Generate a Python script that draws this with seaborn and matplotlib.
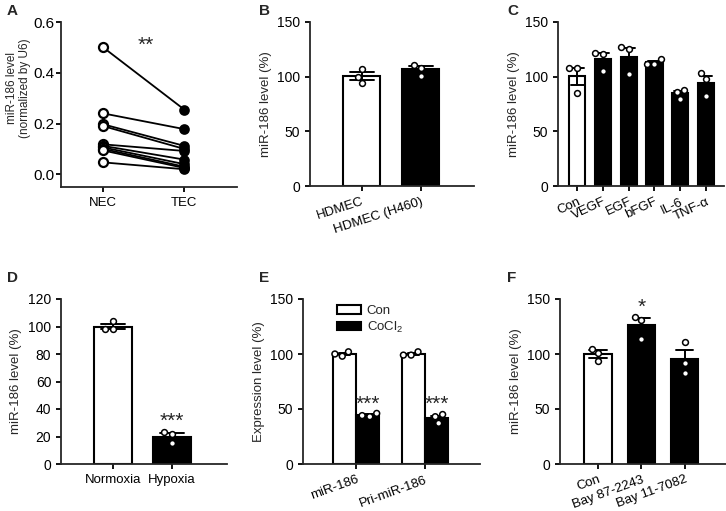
import numpy as np
import pandas as pd
import matplotlib
matplotlib.use("Agg")
import matplotlib.pyplot as plt
import seaborn as sns

# ---- data ----
# A: paired samples
nec_vals = [0.50, 0.24, 0.197, 0.19, 0.118, 0.112, 0.106, 0.10, 0.094, 0.047]
tec_vals = [0.255, 0.178, 0.112, 0.100, 0.092, 0.058, 0.040, 0.030, 0.025, 0.020]

# B
b_cats = ["HDMEC", "HDMEC (H460)"]
b_pts = [[107, 100, 94], [111, 108, 101]]

# C
c_cats = ["Con", "VEGF", "EGF", "bFGF", "IL-6", "TNF-α"]
c_pts = [[108, 108, 85], [122, 121, 105], [127, 125, 102],
         [116, 112, 112], [88, 86, 80], [103, 98, 82]]

# D
d_cats = ["Normoxia", "Hypoxia"]
d_pts = [[104, 98, 98], [23, 22, 15]]

# E
e_cats = ["miR-186", "Pri-miR-186"]
e_groups = ["Con", "CoCl2"]
e_con_pts = [[102, 100, 98], [102, 99, 99]]
e_cocl_pts = [[46, 44, 43], [45, 43, 37]]

# F
f_cats = ["Con", "Bay 87-2243", "Bay 11-7082"]
f_pts = [[105, 101, 94], [134, 131, 114], [111, 92, 83]]


def long_df(cats, pts):
    rows = [(c, v) for c, vals in zip(cats, pts) for v in vals]
    return pd.DataFrame(rows, columns=["cat", "val"])


sns.set_style("ticks")
plt.rcParams["font.family"] = ["Liberation Sans", "DejaVu Sans"]
plt.rcParams["mathtext.default"] = "regular"
plt.rcParams["font.size"] = 9
plt.rcParams["axes.linewidth"] = 1.3
plt.rcParams["xtick.major.width"] = 1.3
plt.rcParams["ytick.major.width"] = 1.3
plt.rcParams["xtick.major.size"] = 3.5
plt.rcParams["ytick.major.size"] = 3.5
plt.rcParams["xtick.labelsize"] = 9.5
plt.rcParams["ytick.labelsize"] = 10
plt.rcParams["axes.labelsize"] = 9.5

W, H = 726, 511
fig = plt.figure(figsize=(W / 100, H / 100), dpi=100)


def add_ax(x0, y0, x1, y1):
    return fig.add_axes([x0 / W, 1 - y1 / H, (x1 - x0) / W, (y1 - y0) / H])


def style(ax):
    sns.despine(ax=ax)
    ax.set_xlabel("")
    ax.tick_params(axis="both", direction="out", colors="black")


def bars(ax, cats, pts, colors, width=0.63, capsize=0.4):
    df = long_df(cats, pts)
    pal = dict(zip(cats, colors))
    sns.barplot(data=df, x="cat", y="val", hue="cat", palette=pal, order=cats,
                errorbar="se", capsize=capsize, width=width, edgecolor="black",
                linewidth=1.5, err_kws={"color": "black", "linewidth": 1.4},
                legend=False, ax=ax)
    sns.swarmplot(data=df, x="cat", y="val", order=cats, color="white",
                  edgecolor="black", linewidth=1.1, size=4.2, ax=ax, zorder=5)


# ---- A ----
axA = add_ax(61, 22, 237, 187)
pair_df = pd.DataFrame({
    "id": list(range(len(nec_vals))) * 2,
    "grp": ["NEC"] * len(nec_vals) + ["TEC"] * len(tec_vals),
    "val": nec_vals + tec_vals,
})
sns.lineplot(data=pair_df, x="grp", y="val", units="id", estimator=None,
             color="black", linewidth=1.3, ax=axA)
sns.scatterplot(data=pair_df[pair_df.grp == "NEC"], x="grp", y="val",
                facecolor="white", edgecolor="black", linewidth=1.6, s=42,
                zorder=5, ax=axA)
sns.scatterplot(data=pair_df[pair_df.grp == "TEC"], x="grp", y="val",
                color="black", edgecolor="black", linewidth=1.2, s=42,
                zorder=5, ax=axA)
axA.set_xlim(-0.52, 1.65)
axA.set_ylim(-0.05, 0.6)
axA.set_yticks([0, 0.2, 0.4, 0.6])
axA.yaxis.set_major_formatter(matplotlib.ticker.FormatStrFormatter("%.1f"))
axA.set_ylabel("miR-186 level\n(normalized by U6)", fontsize=8.5,
               linespacing=1.1)
axA.yaxis.set_label_coords(-0.17, 0.6)
axA.text(0.52, 0.51, "**", ha="center", va="center", fontsize=15)
style(axA)
axA.tick_params(axis="y", labelsize=11, pad=1.5)

# ---- B ----
axB = add_ax(310, 22, 474, 186)
bars(axB, b_cats, b_pts, ["white", "black"], capsize=0.4)
axB.set_xlim(-0.88, 1.9)
axB.set_ylim(0, 150)
axB.set_yticks([0, 50, 100, 150])
axB.set_ylabel("miR-186 level (%)")
style(axB)
plt.setp(axB.get_xticklabels(), rotation=18, ha="right", rotation_mode="anchor")

# ---- C ----
axC = add_ax(558, 22, 724, 186)
bars(axC, c_cats, c_pts, ["white"] + ["black"] * 5, capsize=0.5)
axC.set_xlim(-0.74, 5.7)
axC.set_ylim(0, 150)
axC.set_yticks([0, 50, 100, 150])
axC.set_ylabel("miR-186 level (%)")
style(axC)
plt.setp(axC.get_xticklabels(), rotation=25, ha="right", rotation_mode="anchor")

# ---- D ----
axD = add_ax(61, 299, 227, 464)
bars(axD, d_cats, d_pts, ["white", "black"], capsize=0.4)
axD.set_xlim(-0.88, 1.93)
axD.set_ylim(0, 120)
axD.set_yticks(range(0, 121, 20))
axD.set_ylabel("miR-186 level (%)")
axD.text(1, 31, "***", ha="center", va="center", fontsize=15)
style(axD)

# ---- E ----
axE = add_ax(303, 299, 480, 464)
e_rows = []
for i, c in enumerate(e_cats):
    for v in e_con_pts[i]:
        e_rows.append((c, "Con", v))
    for v in e_cocl_pts[i]:
        e_rows.append((c, "CoCl2", v))
e_df = pd.DataFrame(e_rows, columns=["cat", "grp", "val"])
sns.barplot(data=e_df, x="cat", y="val", hue="grp", order=e_cats,
            hue_order=e_groups, palette={"Con": "white", "CoCl2": "black"},
            errorbar="se", capsize=0.3, width=0.67, edgecolor="black",
            linewidth=1.5, err_kws={"color": "black", "linewidth": 1.4}, ax=axE)
sns.swarmplot(data=e_df, x="cat", y="val", hue="grp", order=e_cats,
              hue_order=e_groups, dodge=True,
              palette={"Con": "white", "CoCl2": "white"}, edgecolor="black",
              linewidth=1.1, size=4.2, legend=False, ax=axE, zorder=5)
handles, _ = axE.get_legend_handles_labels()
axE.legend(handles[:2], ["Con", "CoCl$_2$"], loc="upper left",
           bbox_to_anchor=(0.165, 0.995), frameon=False, fontsize=9.5,
           handlelength=1.8, handleheight=0.6, labelspacing=0.2,
           handletextpad=0.4, borderaxespad=0)
for k in range(len(e_cats)):
    axE.text(k + 0.17, 54, "***", ha="center", va="center", fontsize=15)
axE.set_xlim(-0.77, 1.8)
axE.set_ylim(0, 150)
axE.set_yticks([0, 50, 100, 150])
axE.set_ylabel("Expression level (%)")
style(axE)
plt.setp(axE.get_xticklabels(), rotation=20, ha="right", rotation_mode="anchor")

# ---- F ----
axF = add_ax(560, 299, 726, 464)
bars(axF, f_cats, f_pts, ["white", "black", "black"], capsize=0.4)
axF.text(1, 142, "*", ha="center", va="center", fontsize=15)
axF.set_xlim(-0.88, 2.95)
axF.set_ylim(0, 150)
axF.set_yticks([0, 50, 100, 150])
axF.set_ylabel("miR-186 level (%)")
style(axF)
plt.setp(axF.get_xticklabels(), rotation=20, ha="right", rotation_mode="anchor")

# panel letters
for lab, x, y in [("A", 7, 4), ("B", 259, 4), ("C", 507, 4),
                  ("D", 7, 271), ("E", 259, 271), ("F", 507, 271)]:
    fig.text(x / W, 1 - y / H, lab, fontsize=11, fontweight="bold",
             ha="left", va="top")

fig.savefig("out.png", dpi=100)
